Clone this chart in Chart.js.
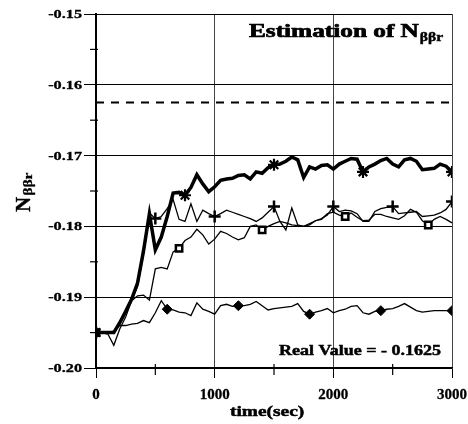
<!DOCTYPE html>
<html>
<head>
<meta charset="utf-8">
<script src="https://cdn.jsdelivr.net/npm/chart.js@4.4.1/dist/chart.umd.min.js"></script>
<style>
  html, body { margin: 0; padding: 0; background: #fff; }
  #wrap { width: 468px; height: 424px; }
</style>
</head>
<body>
<div id="wrap"><canvas id="chart" width="468" height="424"></canvas></div>
<script>
// sample times (sec)
const times = [0, 50, 100, 150, 200, 250, 300, 350, 400, 450, 500, 550, 600, 650, 700, 750, 800, 850, 900, 950,
  1000, 1050, 1100, 1150, 1200, 1250, 1300, 1350, 1400, 1450, 1500, 1550, 1600, 1650, 1700, 1750, 1800, 1850, 1900, 1950,
  2000, 2050, 2100, 2150, 2200, 2250, 2300, 2350, 2400, 2450, 2500, 2550, 2600, 2650, 2700, 2750, 2800, 2850, 2900, 2950, 3000];

// estimates, one array per run
const estStar = [-0.1950, -0.1950, -0.1950, -0.1950, -0.1936, -0.1920, -0.1903, -0.1880, -0.1835, -0.1782,
  -0.1833, -0.1815, -0.1786, -0.1753, -0.1752, -0.1756, -0.1745, -0.1727, -0.1740, -0.1751,
  -0.1744, -0.1735, -0.1733, -0.1732, -0.1728, -0.1727, -0.1733, -0.1723, -0.1725, -0.1717,
  -0.1713, -0.1712, -0.1708, -0.1702, -0.1706, -0.1731, -0.1716, -0.1719, -0.1714, -0.1713,
  -0.1719, -0.1712, -0.1708, -0.1704, -0.1705, -0.1723, -0.1716, -0.1712, -0.1707, -0.1704,
  -0.1712, -0.1716, -0.1706, -0.1704, -0.1708, -0.1720, -0.1719, -0.1718, -0.1712, -0.1715, -0.1723];

const estPlus = [-0.1950, -0.1950, -0.1950, -0.1950, -0.1938, -0.1922, -0.1905, -0.1885, -0.1840, -0.1781,
  -0.1789, -0.1786, -0.1775, -0.1762, -0.1790, -0.1793, -0.1768, -0.1793, -0.1777, -0.1782,
  -0.1786, -0.1782, -0.1777, -0.1780, -0.1783, -0.1786, -0.1789, -0.1793, -0.1788, -0.1780,
  -0.1772, -0.1793, -0.1805, -0.1774, -0.1798, -0.1800, -0.1796, -0.1792, -0.1789, -0.1784,
  -0.1772, -0.1779, -0.1777, -0.1778, -0.1782, -0.1793, -0.1793, -0.1779, -0.1775, -0.1773,
  -0.1772, -0.1782, -0.1781, -0.1780, -0.1779, -0.1786, -0.1785, -0.1784, -0.1781, -0.1776, -0.1765];

const estSquare = [-0.1950, -0.1950, -0.1952, -0.1968, -0.1945, -0.1928, -0.1905, -0.1898, -0.1897, -0.1904,
  -0.1860, -0.1858, -0.1860, -0.1836, -0.1831, -0.1820, -0.1815, -0.1804, -0.1812, -0.1825,
  -0.1818, -0.1807, -0.1810, -0.1815, -0.1819, -0.1816, -0.1800, -0.1798, -0.1805, -0.1800,
  -0.1796, -0.1793, -0.1795, -0.1798, -0.1799, -0.1800, -0.1798, -0.1792, -0.1790, -0.1782,
  -0.1780, -0.1784, -0.1786, -0.1781, -0.1787, -0.1792, -0.1791, -0.1783, -0.1783, -0.1786,
  -0.1788, -0.1790, -0.1785, -0.1776, -0.1780, -0.1792, -0.1798, -0.1790, -0.1786, -0.1790, -0.1795];

const estDiamond = [-0.1950, -0.1950, -0.1950, -0.1948, -0.1940, -0.1940, -0.1938, -0.1937, -0.1933, -0.1936,
  -0.1922, -0.1905, -0.1917, -0.1918, -0.1921, -0.1922, -0.1926, -0.1908, -0.1917, -0.1920,
  -0.1924, -0.1912, -0.1910, -0.1913, -0.1912, -0.1912, -0.1910, -0.1906, -0.1912, -0.1918,
  -0.1916, -0.1915, -0.1914, -0.1913, -0.1909, -0.1920, -0.1924, -0.1921, -0.1919, -0.1916,
  -0.1922, -0.1919, -0.1917, -0.1913, -0.1912, -0.1922, -0.1924, -0.1920, -0.1919, -0.1917,
  -0.1916, -0.1913, -0.1909, -0.1914, -0.1919, -0.1921, -0.1920, -0.1919, -0.1919, -0.1919, -0.1919];

const realValue = -0.1625;

const xTicks = [0, 1000, 2000, 3000];
const xMinorTicks = [500, 1500, 2500];
const yTicks = [-0.20, -0.19, -0.18, -0.17, -0.16, -0.15];
const yMinorTicks = [-0.195, -0.185, -0.175, -0.165, -0.155];

const SERIF = "'Liberation Serif', 'Times New Roman', serif";

function toPoints(values) {
  return values.map((v, i) => ({ x: times[i], y: v }));
}

// marker only every n-th sample
function markerEvery(n, r) {
  return times.map((t, i) => (i % n === 0 ? r : 0));
}

// bold text, widened by sx and thickened with a thin outline
function drawText(ctx, text, x, y, size, sx, align, heavy) {
  ctx.save();
  ctx.font = `bold ${size}px ${SERIF}`;
  ctx.textAlign = align || "left";
  ctx.textBaseline = "alphabetic";
  ctx.translate(x, y);
  ctx.scale(sx, 1);
  ctx.fillText(text, 0, 0);
  if (heavy) {
    ctx.lineWidth = heavy;
    ctx.strokeStyle = "#000";
    ctx.strokeText(text, 0, 0);
  }
  const w = ctx.measureText(text).width * sx;
  ctx.restore();
  return w;
}

const axisDecor = {
  id: "axisDecor",
  afterDraw(chart) {
    const { ctx, scales } = chart;
    const xs = scales.x, ys = scales.y;
    const bottom = chart.chartArea.bottom, left = chart.chartArea.left;
    ctx.save();
    ctx.fillStyle = "#000";
    ctx.strokeStyle = "#000";
    ctx.lineWidth = 1.2;

    // minor ticks
    xMinorTicks.forEach(v => {
      const px = xs.getPixelForValue(v);
      ctx.beginPath();
      ctx.moveTo(px, bottom - 4);
      ctx.lineTo(px, bottom + 7);
      ctx.stroke();
    });
    yMinorTicks.forEach(v => {
      const py = ys.getPixelForValue(v);
      ctx.beginPath();
      ctx.moveTo(left - 6, py);
      ctx.lineTo(left + 2, py);
      ctx.stroke();
    });

    // tick labels
    yTicks.forEach(v => {
      const py = ys.getPixelForValue(v);
      drawText(ctx, v.toFixed(2), 82, py + 4, 12.5, 1.3, "right", 0.3);
    });
    xTicks.forEach(v => {
      const px = xs.getPixelForValue(v);
      drawText(ctx, String(v), px, 399, 15, 1, "center", 0.3);
    });

    // axis titles
    drawText(ctx, "time(sec)", 230, 416, 15.5, 1.25, "left", 0.5);

    ctx.save();
    ctx.translate(30, 212);
    ctx.rotate(-Math.PI / 2);
    const nw = drawText(ctx, "N", 0, 0, 21, 1, "left", 0.4);
    drawText(ctx, "ββr", nw + 1, 2, 13, 1.2, "left", 0.3);
    ctx.restore();

    // chart heading inside the plot
    const mw = drawText(ctx, "Estimation of N", 249, 37, 19, 1.33, "left", 0.7);
    drawText(ctx, "ββr", 249 + mw + 1, 41, 12, 1.3, "left", 0.4);

    drawText(ctx, "Real Value = - 0.1625", 279, 355, 15.5, 1.16, "left", 0.5);
    ctx.restore();
  }
};

new Chart(document.getElementById("chart"), {
  type: "line",
  data: {
    datasets: [
      {
        label: "real",
        data: [{ x: 0, y: realValue }, { x: 3000, y: realValue }],
        borderColor: "#000",
        borderWidth: 2,
        borderDash: [8, 7],
        pointRadius: 0,
        order: 5
      },
      {
        label: "diamond",
        data: toPoints(estDiamond),
        borderColor: "#000",
        borderWidth: 1.3,
        pointStyle: "rectRot",
        pointRadius: markerEvery(12, 5),
        pointBackgroundColor: "#000",
        pointBorderColor: "#000",
        pointBorderWidth: 1,
        order: 4
      },
      {
        label: "square",
        data: toPoints(estSquare),
        borderColor: "#000",
        borderWidth: 1.3,
        pointStyle: "rect",
        pointRadius: markerEvery(14, 4.5),
        pointBackgroundColor: "#fff",
        pointBorderColor: "#000",
        pointBorderWidth: 2.5,
        order: 3
      },
      {
        label: "plus",
        data: toPoints(estPlus),
        borderColor: "#000",
        borderWidth: 1.3,
        pointStyle: "cross",
        pointRadius: markerEvery(10, 6),
        pointBorderColor: "#000",
        pointBorderWidth: 2.5,
        order: 2
      },
      {
        label: "star",
        data: toPoints(estStar),
        borderColor: "#000",
        borderWidth: 3.5,
        pointStyle: "star",
        pointRadius: markerEvery(15, 6),
        pointBorderColor: "#000",
        pointBorderWidth: 2.2,
        order: 1
      }
    ]
  },
  options: {
    responsive: false,
    animation: false,
    layout: { padding: { left: 0, right: 16, top: 14, bottom: 0 } },
    plugins: {
      legend: { display: false },
      tooltip: { enabled: false }
    },
    elements: { line: { tension: 0 } },
    scales: {
      x: {
        type: "linear",
        min: 0,
        max: 3000,
        afterBuildTicks: s => { s.ticks = xTicks.map(v => ({ value: v })); },
        afterFit: s => { s.height = 56; },
        ticks: { display: false },
        grid: { color: "#444", lineWidth: 1, tickLength: 10, tickColor: "#000" },
        border: { color: "#000", width: 1.5 }
      },
      y: {
        min: -0.2,
        max: -0.15,
        afterBuildTicks: s => { s.ticks = yTicks.map(v => ({ value: v })); },
        afterFit: s => { s.width = 96; },
        ticks: { display: false },
        grid: { color: "#000", lineWidth: 1, tickLength: 12, tickColor: "#000" },
        border: { color: "#000", width: 2 }
      }
    }
  },
  plugins: [axisDecor]
});
</script>
</body>
</html>
